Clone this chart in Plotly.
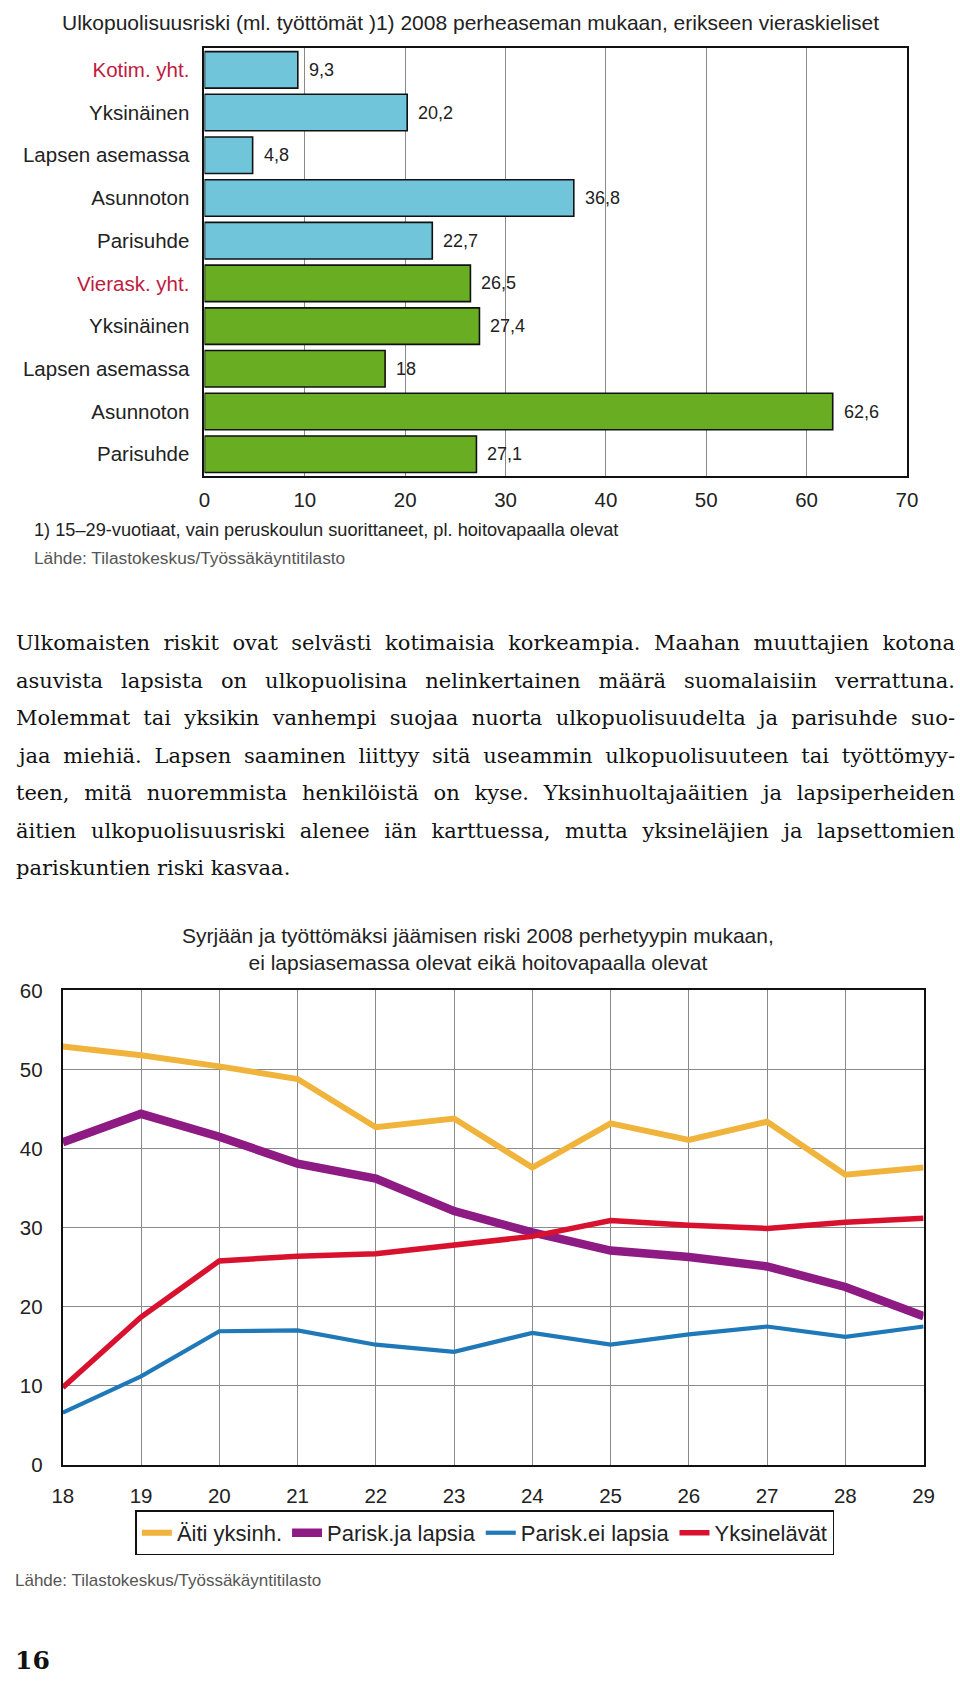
import plotly.graph_objects as go

# ---------------- data ----------------
bar_categories = ["Kotim. yht.", "Yksinäinen", "Lapsen asemassa", "Asunnoton", "Parisuhde",
                  "Vierask. yht.", "Yksinäinen", "Lapsen asemassa", "Asunnoton", "Parisuhde"]
bar_values = [9.3, 20.2, 4.8, 36.8, 22.7, 26.5, 27.4, 18, 62.6, 27.1]
bar_group = ["Kotim"] * 5 + ["Vierask"] * 5
bar_is_total = [True, False, False, False, False, True, False, False, False, False]
bar_xticks = [0, 10, 20, 30, 40, 50, 60, 70]

ages = [18, 19, 20, 21, 22, 23, 24, 25, 26, 27, 28, 29]
aiti_yksinh = [52.9, 51.8, 50.4, 48.8, 42.7, 43.8, 37.6, 43.2, 41.1, 43.4, 36.7, 37.6]
parisk_lapsia = [40.8, 44.4, 41.5, 38.1, 36.2, 32.1, 29.4, 27.1, 26.3, 25.1, 22.5, 18.8]
parisk_ei_lapsia = [6.6, 11.2, 16.9, 17.0, 15.2, 14.3, 16.7, 15.2, 16.5, 17.5, 16.2, 17.5]
yksinelavat = [9.8, 18.7, 25.8, 26.4, 26.7, 27.8, 28.9, 30.9, 30.3, 29.9, 30.7, 31.2]
line_yticks = [0, 10, 20, 30, 40, 50, 60]

bar_title = "Ulkopuolisuusriski (ml. työttömät )1) 2008 perheaseman mukaan, erikseen vieraskieliset"
bar_note = "1) 15–29-vuotiaat, vain peruskoulun suorittaneet, pl. hoitovapaalla olevat"
source = "Lähde: Tilastokeskus/Työssäkäyntitilasto"
paragraph = [
    "Ulkomaisten riskit ovat selvästi kotimaisia korkeampia. Maahan muuttajien kotona",
    "asuvista lapsista on ulkopuolisina nelinkertainen määrä suomalaisiin verrattuna.",
    "Molemmat tai yksikin vanhempi suojaa nuorta ulkopuolisuudelta ja parisuhde suo-",
    "jaa miehiä. Lapsen saaminen liittyy sitä useammin ulkopuolisuuteen tai työttömyy-",
    "teen, mitä nuoremmista henkilöistä on kyse. Yksinhuoltajaäitien ja lapsiperheiden",
    "äitien ulkopuolisuusriski alenee iän karttuessa, mutta yksineläjien ja lapsettomien",
    "pariskuntien riski kasvaa.",
]
line_title = "Syrjään ja työttömäksi jäämisen riski 2008 perhetyypin mukaan,<br>ei lapsiasemassa olevat eikä hoitovapaalla olevat"
page_number = "16"

# ---------------- styling ----------------
W, H = 960, 1685
SANS = "Liberation Sans, Arial, Helvetica, sans-serif"
SERIF = "DejaVu Serif, serif"
RED_LABEL = "#C01A3F"
group_colors = {"Kotim": "#70C5DA", "Vierask": "#69AD23"}


def py(pix):
    return 1 - pix / H


def px(pix):
    return pix / W


fig = go.Figure()

# ---------------- bar chart ----------------
idx = list(range(len(bar_categories)))
fig.add_trace(go.Bar(
    x=bar_values, y=idx, orientation="h",
    marker=dict(color=[group_colors[g] for g in bar_group],
                line=dict(color="#111111", width=1.6)),
    width=0.855, showlegend=False, hoverinfo="x",
    xaxis="x", yaxis="y",
))

ticktext = [f"<span style='color:{RED_LABEL}'>{c}</span>" if t else c
            for c, t in zip(bar_categories, bar_is_total)]

annotations = []
for v, i in zip(bar_values, idx):
    label = (f"{v:g}").replace(".", ",")
    annotations.append(dict(x=v, y=i, xref="x", yref="y", text=label, showarrow=False,
                            xanchor="left", yanchor="middle", xshift=9,
                            font=dict(family=SANS, size=18, color="#222222")))

# ---------------- line chart ----------------
series = [
    ("Äiti yksinh.", aiti_yksinh, "#F0B43C", 6),
    ("Parisk.ja lapsia", parisk_lapsia, "#8E1A84", 8.5),
    ("Parisk.ei lapsia", parisk_ei_lapsia, "#1F78B8", 4.2),
    ("Yksinelävät", yksinelavat, "#D8122E", 5.5),
]
for name, vals, col, w in series:
    fig.add_trace(go.Scatter(
        x=ages, y=vals, name=name, mode="lines",
        line=dict(color=col, width=w),
        xaxis="x2", yaxis="y2",
    ))

# ---------------- text annotations ----------------
annotations.append(dict(x=px(50), y=py(11), xref="paper", yref="paper", text=bar_title,
                        showarrow=False, xanchor="left", yanchor="middle",
                        font=dict(family=SANS, size=21, color="#222222")))
annotations.append(dict(x=px(21), y=py(525), xref="paper", yref="paper", text=bar_note,
                        showarrow=False, xanchor="left", yanchor="middle",
                        font=dict(family=SANS, size=18.2, color="#222222")))
annotations.append(dict(x=px(21), y=py(554), xref="paper", yref="paper", text=source,
                        showarrow=False, xanchor="left", yanchor="middle",
                        font=dict(family=SANS, size=17.3, color="#555555")))
justify_idx = []
for k, line in enumerate(paragraph):
    if k < len(paragraph) - 1:
        justify_idx.append(len(annotations))
    annotations.append(dict(x=px(3), y=py(640 + 38 * k), xref="paper", yref="paper", text=line,
                            showarrow=False, xanchor="left", yanchor="middle", align="left",
                            font=dict(family=SERIF, size=21, color="#111111")))
annotations.append(dict(x=px(478), y=py(950), xref="paper", yref="paper", text=line_title,
                        showarrow=False, xanchor="center", yanchor="middle",
                        font=dict(family=SANS, size=21, color="#222222")))
annotations.append(dict(x=px(2), y=py(1590), xref="paper", yref="paper", text=source,
                        showarrow=False, xanchor="left", yanchor="middle",
                        font=dict(family=SANS, size=17, color="#555555")))
annotations.append(dict(x=px(2), y=py(1671), xref="paper", yref="paper", text="<b>" + page_number + "</b>",
                        showarrow=False, xanchor="left", yanchor="middle",
                        font=dict(family=SERIF, size=25, color="#111111")))

fig.update_layout(
    width=W, height=H,
    margin=dict(l=0, r=0, t=0, b=0),
    paper_bgcolor="white", plot_bgcolor="white",
    font=dict(family=SANS, color="#222222"),
    annotations=annotations,
    xaxis=dict(domain=[px(198), px(917)], range=[0, 70], anchor="y",
               tickvals=bar_xticks, ticktext=[str(t) for t in bar_xticks],
               showgrid=True, gridcolor="#8A8A8A", gridwidth=1,
               showline=True, linecolor="#111111", linewidth=2, mirror=True,
               ticks="outside", ticklen=5, tickcolor="rgba(0,0,0,0)",
               tickfont=dict(family=SANS, size=20.5, color="#222222"), zeroline=False),
    yaxis=dict(domain=[py(470), py(37)], range=[9.5, -0.5], anchor="x",
               tickvals=idx, ticktext=ticktext, showgrid=False,
               showline=True, linecolor="#111111", linewidth=2, mirror=True,
               ticks="outside", ticklen=9, tickcolor="rgba(0,0,0,0)",
               tickfont=dict(family=SANS, size=20.5, color="#222222"), zeroline=False),
    xaxis2=dict(domain=[px(53), px(934)], range=[18, 29], anchor="y2",
                tickvals=ages, ticktext=[str(a) for a in ages],
                showgrid=True, gridcolor="#8A8A8A", gridwidth=1,
                showline=True, linecolor="#111111", linewidth=2, mirror=True,
                ticks="outside", ticklen=12, tickcolor="rgba(0,0,0,0)",
                tickfont=dict(family=SANS, size=20.5, color="#222222"), zeroline=False),
    yaxis2=dict(domain=[py(1473), py(992)], range=[0, 60], anchor="x2",
                tickvals=line_yticks, ticktext=[str(t) for t in line_yticks],
                showgrid=True, gridcolor="#8A8A8A", gridwidth=1,
                showline=True, linecolor="#111111", linewidth=2, mirror=True,
                ticks="outside", ticklen=14, tickcolor="rgba(0,0,0,0)",
                tickfont=dict(family=SANS, size=20.5, color="#222222"), zeroline=False),
    legend=dict(orientation="h", x=px(485), y=py(1542), xanchor="center", yanchor="middle",
                bordercolor="#111111", borderwidth=1.5, bgcolor="white",
                font=dict(family=SANS, size=22, color="#222222"),
                itemwidth=30, tracegroupgap=0),
    showlegend=True,
)

js = (
    "var de=document.documentElement;de.style.margin='0';de.style.padding='0';"
    "document.body.style.margin='0';document.body.style.padding='0';"
    "document.body.style.overflow='hidden';"
    "var gd=document.querySelector('.js-plotly-plot');"
    "gd.style.position='absolute';gd.style.left='0px';gd.style.top='0px';"
    "var J=" + str(justify_idx) + ";var RIGHT=955;"
    "var gr=gd.getBoundingClientRect();"
    "gd.querySelectorAll('g.annotation').forEach(function(g){"
    "var i=parseInt(g.getAttribute('data-index'));"
    "if(J.indexOf(i)<0)return;"
    "var t=g.querySelector('text.annotation-text');if(!t)return;"
    "var n=(t.textContent.match(/ /g)||[]).length;if(n<1)return;"
    "var ws=0;"
    "for(var it=0;it<3;it++){"
    "var r=t.getBoundingClientRect();var err=RIGHT-(r.right-gr.left);"
    "ws+=err/n;t.style.wordSpacing=ws+'px';}"
    "});"
)

fig.write_html("out.html", config={"displayModeBar": False}, post_script=js)
